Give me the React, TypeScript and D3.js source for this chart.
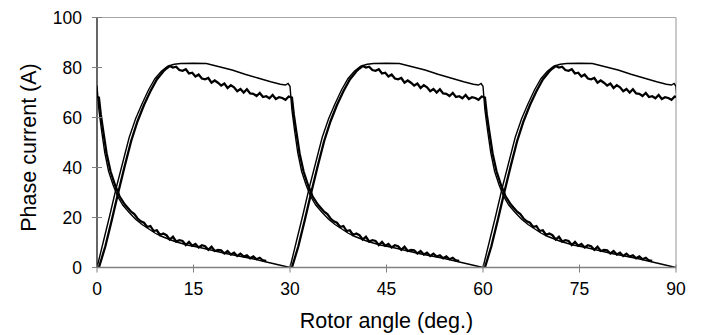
import React from "react";
import * as d3 from "d3";

const xTicks = [0, 15, 30, 45, 60, 75, 90];
const yTicks = [0, 20, 40, 60, 80, 100];
// start angle of each phase's conduction cycle (deg.)
const phaseStarts = [-30, 0, 30, 60];

// simulated phase current, angle relative to phase start
const simAngle = [0, 1, 2, 3, 4, 5, 6, 7, 8, 9, 10, 11, 12, 13, 15, 17, 19, 21, 23, 25, 27, 28.5, 29.3, 29.7, 30,
  30.3, 30.7, 31.2, 31.8, 32.5, 33.2, 34, 35, 36, 37, 38, 39, 40, 42, 44, 46, 48, 50, 52, 54, 56, 58, 60];
const simCurrent = [0, 10.5, 21, 32, 42, 52, 59.5, 65.5, 71, 75.5, 78.5, 80.5, 81.3, 81.6, 81.7, 81.6, 80.3, 79, 77.3, 75.8, 74.3, 73.3, 73, 73.6, 72.5,
  63, 55, 46, 38.5, 33, 28.5, 25, 22, 19.3, 17.2, 15.5, 13.8, 12.5, 10.5, 9, 8, 6.8, 5.6, 4.6, 3.6, 2.4, 1.2, 0];

// measured phase current, angle relative to phase start
const measAngle = [0, 1, 2, 3, 4, 5, 6, 7, 8, 9, 10, 10.5,
  11, 11.5, 12, 12.5, 13, 13.5, 14, 14.5, 15, 15.5, 16, 16.5, 17, 17.5, 18, 18.5, 19, 19.5, 20, 20.5,
  21, 21.5, 22, 22.5, 23, 23.5, 24, 24.5, 25, 25.5, 26, 26.5, 27, 27.5, 28, 28.5, 29, 29.5, 30,
  30.3, 30.7, 31.2, 31.8, 32.5, 33.2, 34, 34.5, 35,
  35.5, 36, 36.5, 37, 37.5, 38, 38.5, 39, 39.5, 40, 40.5, 41, 41.5, 42, 42.5, 43, 43.5, 44, 44.5, 45,
  45.5, 46, 46.5, 47, 47.5, 48, 48.5, 49, 49.5, 50, 50.5, 51, 51.5, 52, 52.5, 53, 53.5, 54, 54.5, 55, 55.5, 56];
const measCurrent = [0, 8.5, 19, 30, 40.5, 50.5, 58.5, 65, 70.5, 75.2, 78.4, 79.6,
  80.6, 80.0, 80.3, 79.0, 78.7, 79.3, 77.6, 77.9, 76.4, 77.2, 75.6, 75.3, 75.8, 73.9, 74.8, 73.9, 72.8, 73.6, 71.8, 72.9,
  72.1, 70.5, 71.4, 70.0, 71.3, 69.6, 69.5, 68.6, 69.8, 68.2, 68.5, 67.7, 69.0, 67.4, 68.1, 67.8, 67.1, 68.4, 68.0,
  61, 54, 45.5, 38.5, 33, 28.5, 25.3, 23.8, 22.3,
  21.4, 19.6, 18.5, 17.9, 16.2, 16.6, 14.6, 14.9, 13.0, 13.6, 12.9, 11.2, 12.3, 10.4, 10.9, 10.6, 9.0, 10.2, 8.7, 9.4,
  8.0, 8.9, 8.5, 7.1, 8.3, 6.6, 7.0, 6.9, 5.6, 6.6, 5.2, 5.9, 4.6, 5.5, 4.4, 4.9, 3.7, 4.4, 3.3, 3.9, 2.8, 2.6];

const W = 702;
const H = 335;
const left = 97;
const right = 676;
const top = 17.5;
const bottom = 267.5;
const FONT = "'Liberation Sans', Arial, sans-serif";

export default function App() {
  const x = d3.scaleLinear().domain([0, 90]).range([left, right]);
  const y = d3.scaleLinear().domain([0, 100]).range([bottom, top]);

  const mkLine = (start: number, ang: number[]) =>
    d3
      .line<number>()
      .x((_, i) => x(start + ang[i]))
      .y((v) => y(v));

  return (
    <svg
      width={W}
      height={H}
      style={{ position: "absolute", left: 0, top: 0, background: "#fff" }}
    >
      <defs>
        <clipPath id="plotclip">
          <rect x={left} y={0} width={right - left} height={H} />
        </clipPath>
      </defs>
      {/* plot frame */}
      <line x1={left} x2={right} y1={top} y2={top} stroke="#a6a6a6" strokeWidth={1.2} />
      <line x1={right} x2={right} y1={top} y2={bottom} stroke="#a6a6a6" strokeWidth={1.2} />

      {/* data */}
      <g clipPath="url(#plotclip)" fill="none" stroke="#000" strokeLinejoin="miter">
        {phaseStarts.map((s) => (
          <g key={"p" + s}>
            <path d={mkLine(s, simAngle)(simCurrent) || ""} strokeWidth={1.4} />
            <path d={mkLine(s + 0.3, measAngle)(measCurrent) || ""} strokeWidth={2.3} />
          </g>
        ))}
      </g>

      {/* axes */}
      <line x1={left} x2={right} y1={bottom} y2={bottom} stroke="#808080" strokeWidth={1.5} />
      <line x1={left} x2={left} y1={top} y2={bottom} stroke="#000" strokeWidth={1.2} />
      {xTicks.map((t) => (
        <g key={"xt" + t}>
          <line x1={x(t)} x2={x(t)} y1={bottom - 3} y2={bottom + 5} stroke="#808080" strokeWidth={1} />
          <text
            x={x(t)}
            y={294.5}
            textAnchor="middle"
            fontFamily={FONT}
            fontSize={17.5}
            fill="#000"
          >
            {t}
          </text>
        </g>
      ))}
      {yTicks.map((t) => (
        <g key={"yt" + t}>
          <line x1={left - 5} x2={left + 5} y1={y(t)} y2={y(t)} stroke="#808080" strokeWidth={1} />
          <text
            x={82}
            y={y(t) + 6.3}
            textAnchor="end"
            fontFamily={FONT}
            fontSize={17.5}
            fill="#000"
          >
            {t}
          </text>
        </g>
      ))}
      <text
        x={(left + right) / 2}
        y={328}
        textAnchor="middle"
        fontFamily={FONT}
        fontSize={21.5}
        fill="#000"
      >
        Rotor angle (deg.)
      </text>
      <text
        transform={`translate(36, ${(top + bottom) / 2 + 5}) rotate(-90)`}
        textAnchor="middle"
        fontFamily={FONT}
        fontSize={21.5}
        fill="#000"
      >
        Phase current (A)
      </text>
    </svg>
  );
}
